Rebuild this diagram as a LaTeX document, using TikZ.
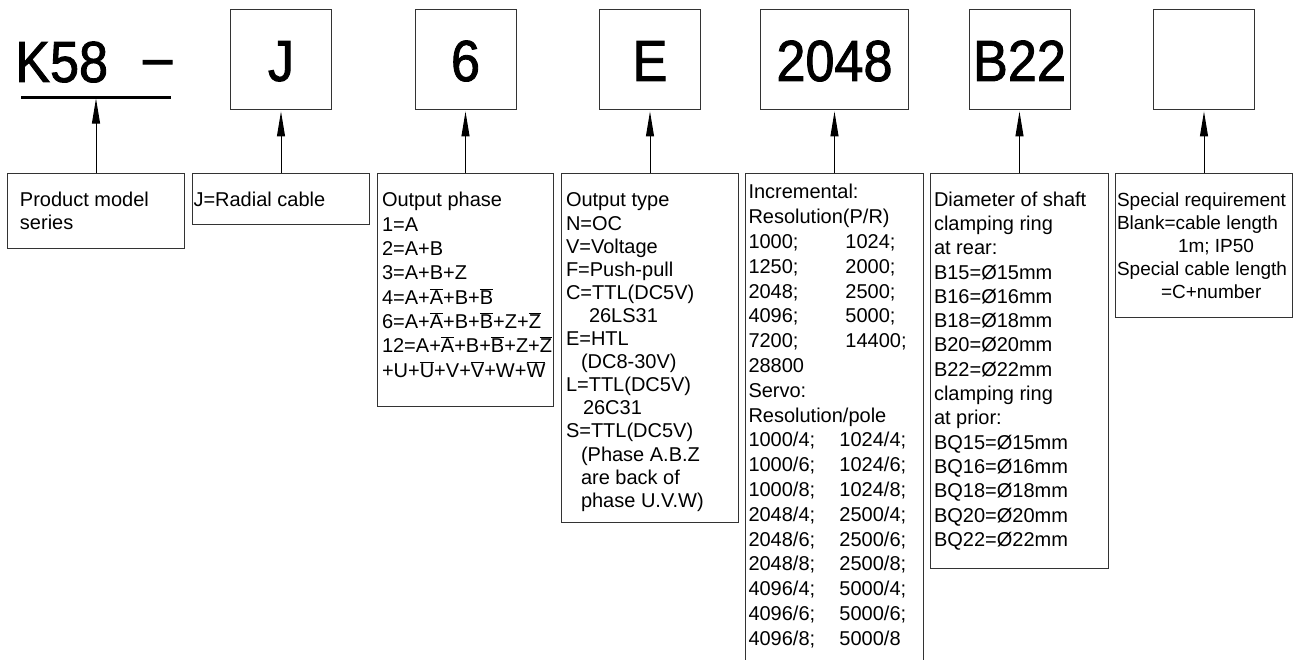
\documentclass[tikz,border=0pt]{standalone}
\usepackage{fontspec}
\setmainfont{Liberation Sans}
\newfontfamily\codefont[FakeStretch=0.9,FakeBold=1.5]{Liberation Sans}
\usetikzlibrary{arrows.meta,positioning}

% text block of a lower box: width, height, left gap, first baseline, text
\newcommand{\desc}[5]{\parbox[t][#2][t]{#1}{\leftskip=#3\relax\rule{0pt}{#4}#5}}
\newcommand{\inv}[1]{\ensuremath{\overline{\mbox{#1}}}}
\newcommand{\pair}[3]{\makebox[#1][l]{#2}#3}

\tikzset{
  codebox/.style={draw=black!80, line width=1pt, minimum height=100pt, text height=42pt, text depth=0pt, inner sep=0pt, font=\fontsize{58pt}{60pt}\codefont},
  descbox/.style={draw=black!80, line width=1pt, anchor=north west, inner sep=0pt, font=\fontsize{20pt}{23.5pt}\selectfont},
  pointer/.style={-{Triangle[length=25pt,width=8pt]}, line width=1pt, shorten >=1pt}
}

\begin{document}
\begin{tikzpicture}[x=1pt,y=-1pt]
\useasboundingbox (0,0) rectangle (1298,660);

% lower boxes
\node[descbox] (pseries) at (7,173) {\desc{177pt}{75pt}{12.5pt}{33pt}{Product model\\series}};
\node[descbox] (pcable) at (192,173) {\desc{177pt}{51pt}{1pt}{33pt}{J=Radial cable}};
\node[descbox, font=\fontsize{20pt}{24.3pt}\selectfont] (pphase) at (377,173) {\desc{176pt}{233pt}{4.5pt}{33.5pt}{Output phase\\
  1=A\\
  2=A+B\\
  3=A+B+Z\\
  4=A+\inv{A}+B+\inv{B}\\
  6=A+\inv{A}+B+\inv{B}+Z+\inv{Z}\\
  12=A+\inv{A}+B+\inv{B}+Z+\inv{Z}\\
  +U+\inv{U}+V+\inv{V}+W+\inv{W}}};
\node[descbox, font=\fontsize{20pt}{23.1pt}\selectfont] (ptype) at (561,173) {\desc{177pt}{349pt}{4.5pt}{33.5pt}{Output type\\
  N=OC\\
  V=Voltage\\
  F=Push-pull\\
  C=TTL(DC5V)\\
  \hspace*{23pt}26LS31\\
  E=HTL\\
  \hspace*{15pt}(DC8-30V)\\
  L=TTL(DC5V)\\
  \hspace*{17pt}26C31\\
  S=TTL(DC5V)\\
  \hspace*{15pt}(Phase A.B.Z\\
  \hspace*{15pt}are back of\\
  \hspace*{15pt}phase U.V.W)}};
\node[descbox, font=\fontsize{20pt}{24.8pt}\selectfont] (pres) at (745,173) {\desc{178pt}{491pt}{3pt}{25.5pt}{Incremental:\\
  Resolution(P/R)\\
  \pair{97pt}{1000;}{1024;}\\
  \pair{97pt}{1250;}{2000;}\\
  \pair{97pt}{2048;}{2500;}\\
  \pair{97pt}{4096;}{5000;}\\
  \pair{97pt}{7200;}{14400;}\\
  28800\\
  Servo:\\
  Resolution/pole\\
  \pair{91pt}{1000/4;}{1024/4;}\\
  \pair{91pt}{1000/6;}{1024/6;}\\
  \pair{91pt}{1000/8;}{1024/8;}\\
  \pair{91pt}{2048/4;}{2500/4;}\\
  \pair{91pt}{2048/6;}{2500/6;}\\
  \pair{91pt}{2048/8;}{2500/8;}\\
  \pair{91pt}{4096/4;}{5000/4;}\\
  \pair{91pt}{4096/6;}{5000/6;}\\
  \pair{91pt}{4096/8;}{5000/8}}};
\node[descbox, font=\fontsize{20pt}{24.3pt}\selectfont] (pshaft) at (930,173) {\desc{178pt}{395pt}{3.5pt}{32.7pt}{Diameter of shaft\\
  clamping ring\\
  at rear:\\
  B15=Ø15mm\\
  B16=Ø16mm\\
  B18=Ø18mm\\
  B20=Ø20mm\\
  B22=Ø22mm\\
  clamping ring\\
  at prior:\\
  BQ15=Ø15mm\\
  BQ16=Ø16mm\\
  BQ18=Ø18mm\\
  BQ20=Ø20mm\\
  BQ22=Ø22mm}};
\node[descbox, font=\fontsize{19pt}{23.1pt}\selectfont] (pspecial) at (1115,173) {\desc{177pt}{144pt}{1.5pt}{32.7pt}{Special requirement\\
  Blank=cable length\\
  \hspace*{61pt}1m; IP50\\
  Special cable length\\
  \hspace*{44pt}=C+number}};

% model code
\node[anchor=base west, inner sep=0pt, font=\fontsize{58pt}{60pt}\codefont] (series) at (15,82) {K58\hspace{35pt}\raisebox{5pt}{–}};
\coordinate (ul-l) at (21,97.3);
\coordinate (ul-r) at (171,97.3);
\draw[line width=2.5pt] (ul-l) -- (ul-r);
\node[codebox, minimum width=101pt] (cable) at (pcable.north |- 0,60) {J};
\node[codebox, minimum width=101pt] (phase) at (pphase.north |- 0,60) {6};
\node[codebox, minimum width=101pt] (type) at (ptype.north |- 0,60) {E};
\node[codebox, minimum width=148pt] (res) at (pres.north |- 0,60) {2048};
\node[codebox, minimum width=101pt] (shaft) at (pshaft.north |- 0,60) {B22};
\node[codebox, minimum width=101pt] (special) at (pspecial.north |- 0,60) {};

% pointers
\draw[pointer, shorten >=1.3pt] (pseries.north) -- (pseries.north |- ul-l);
\draw[pointer] (pcable.north) -- (cable.south);
\draw[pointer] (pphase.north) -- (phase.south);
\draw[pointer] (ptype.north) -- (type.south);
\draw[pointer] (pres.north) -- (res.south);
\draw[pointer] (pshaft.north) -- (shaft.south);
\draw[pointer] (pspecial.north) -- (special.south);
\end{tikzpicture}
\end{document}
